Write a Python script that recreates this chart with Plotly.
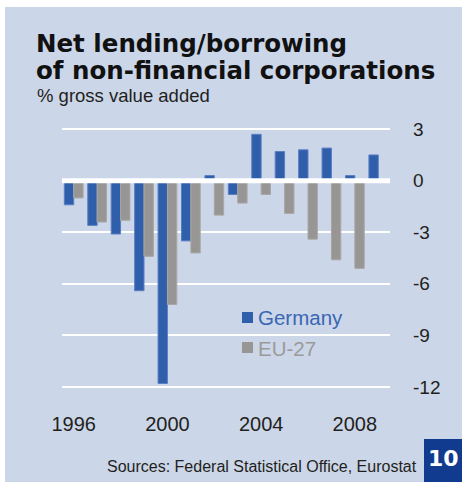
import plotly.graph_objects as go

# Net lending (+) / net borrowing (-) of non-financial corporations, % of gross value added
years = list(range(1996, 2010))
germany = [-1.4, -2.6, -3.1, -6.4, -11.8, -3.5, 0.3, -0.8, 2.7, 1.7, 1.8, 1.9, 0.3, 1.5]
eu27 = [-1.0, -2.4, -2.3, -4.4, -7.2, -4.2, -2.0, -1.3, -0.8, -1.9, -3.4, -4.6, -5.1, None]

series_names = ["Germany", "EU-27"]
y_tickvals = [3, 0, -3, -6, -9, -12]
y_ticktext = ["3", "0", "-3", "-6", "-9", "-12"]
x_tickvals = [1996, 2000, 2004, 2008]
x_ticktext = ["1996", "2000", "2004", "2008"]

title_lines = ["Net lending/borrowing", "of non-financial corporations"]
subtitle = "% gross value added"
source = "Sources: Federal Statistical Office, Eurostat"
page_no = "10"

BG = "#cbd6e8"
BLUE = "#2f5faa"
GREY = "#989694"
TEXT = "#231f20"

W, H = 462, 482
ML, MR, MT, MB = 62, 72, 112, 82
PW, PH = W - ML - MR, H - MT - MB


def px(x):
    return (x - ML) / PW


def py(y):
    return (H - MB - y) / PH


fig = go.Figure()
fig.add_trace(go.Bar(x=years, y=germany, name=series_names[0],
                     marker=dict(color=BLUE, line=dict(color="#5a7fc2", width=1))))
fig.add_trace(go.Bar(x=years, y=eu27, name=series_names[1],
                     marker=dict(color=GREY, line=dict(color="#a9a7a5", width=1))))

shapes = [
    # panel background
    dict(type="rect", xref="paper", yref="paper", x0=px(5), x1=px(W + 2), y0=py(H + 2), y1=py(7),
         fillcolor=BG, line=dict(width=0), layer="below"),
    # zero line drawn over the bars
    dict(type="line", xref="paper", yref="y", x0=0, x1=1, y0=0, y1=0,
         line=dict(color="white", width=5), layer="above"),
    # legend swatches
    dict(type="rect", xref="paper", yref="paper", x0=px(242), x1=px(253), y0=py(323), y1=py(312),
         fillcolor=BLUE, line=dict(width=0)),
    dict(type="rect", xref="paper", yref="paper", x0=px(242), x1=px(253), y0=py(353), y1=py(342),
         fillcolor=GREY, line=dict(width=0)),
    # page number box
    dict(type="rect", xref="paper", yref="paper", x0=px(424), x1=px(W + 2), y0=py(H + 2), y1=py(439),
         fillcolor="#113b8f", line=dict(width=0), layer="above"),
]

title_font = dict(family="DejaVu Sans", size=24.5, color="#111111", weight="bold")
annotations = [
    dict(text=title_lines[0], x=px(34), y=py(43), xanchor="left", yanchor="middle", font=title_font),
    dict(text=title_lines[1], x=px(34), y=py(71), xanchor="left", yanchor="middle", font=title_font),
    dict(text=subtitle, x=px(35), y=py(95.5), xanchor="left", yanchor="middle",
         font=dict(family="Liberation Sans", size=18.5, color=TEXT)),
    dict(text=series_names[0], x=px(256), y=py(317), xanchor="left", yanchor="middle",
         font=dict(family="Liberation Sans", size=20.5, color="#3a66b4")),
    dict(text=series_names[1], x=px(256), y=py(348), xanchor="left", yanchor="middle",
         font=dict(family="Liberation Sans", size=20.5, color="#9c9a98")),
    dict(text=source, x=px(419), y=py(466.5), xanchor="right", yanchor="middle",
         font=dict(family="Liberation Sans", size=16, color=TEXT)),
    dict(text=page_no, x=px(443), y=py(458.5), xanchor="center", yanchor="middle",
         font=dict(family="DejaVu Sans", size=22, color="white", weight="bold")),
]
for a in annotations:
    a.update(xref="paper", yref="paper", showarrow=False)

fig.update_layout(
    width=W, height=H,
    margin=dict(l=ML, r=MR, t=MT, b=MB, pad=0),
    paper_bgcolor="white", plot_bgcolor=BG,
    barmode="group", bargap=0.2, bargroupgap=0,
    showlegend=False,
    shapes=shapes, annotations=annotations,
    font=dict(family="Liberation Sans", color=TEXT),
)
fig.update_xaxes(range=[1995.5, 2009.5], tickvals=x_tickvals, ticktext=x_ticktext,
                 showgrid=False, zeroline=False, showline=False, ticks="",
                 tickfont=dict(size=20, color=TEXT), ticklabelstandoff=10)
fig.update_yaxes(range=[-12.76, 4.0], side="right", tickvals=y_tickvals, ticktext=y_ticktext,
                 showgrid=True, gridcolor="white", gridwidth=2, zeroline=False, showline=False,
                 ticks="", tickfont=dict(size=19, color=TEXT), ticklabelstandoff=22)

fig.write_html("out.html")
